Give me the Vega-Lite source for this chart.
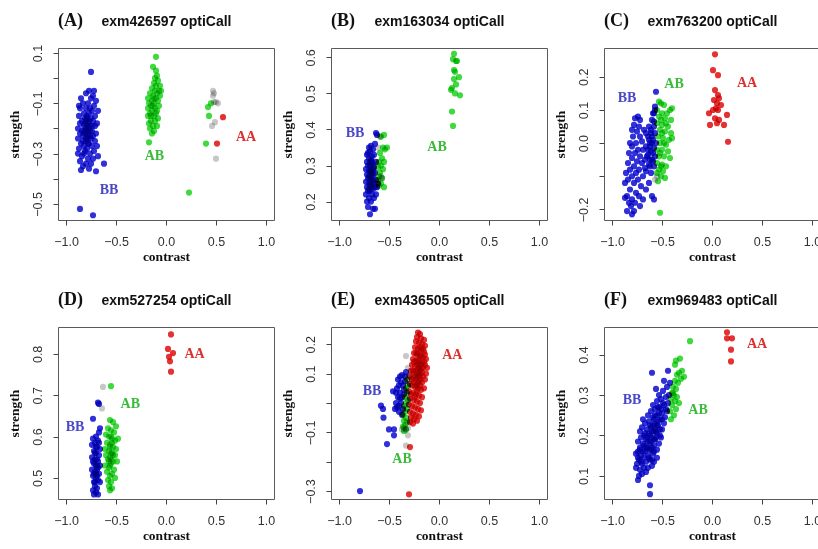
{
  "$schema": "https://vega.github.io/schema/vega-lite/v6.json",
  "background": "white",
  "padding": {"left": 6, "top": 11, "right": 0, "bottom": 0},
  "datasets": {
    "ptsA": [
      {"g":"BB","x":-0.75,"y":0.025},{"g":"BB","x":-0.86,"y":-0.52},{"g":"BB","x":-0.73,"y":-0.545},{"g":"BB","x":-0.62,"y":-0.34},
      {"g":"BB","x":-0.70,"y":-0.37},{"g":"BB","x":-0.85,"y":-0.365},{"g":"BB","x":-0.68,"y":-0.31},{"g":"BB","x":-0.88,"y":-0.30},
      {"g":"BB","x":-0.77,"y":-0.05},{"g":"BB","x":-0.72,"y":-0.05},{"g":"BB","x":-0.80,"y":-0.06},{"g":"BB","x":-0.75,"y":-0.08},
      {"g":"BB","x":-0.70,"y":-0.09},{"g":"BB","x":-0.83,"y":-0.10},{"g":"BB","x":-0.78,"y":-0.10},{"g":"BB","x":-0.72,"y":-0.11},
      {"g":"BB","x":-0.86,"y":-0.12},{"g":"BB","x":-0.80,"y":-0.12},{"g":"BB","x":-0.74,"y":-0.13},{"g":"BB","x":-0.68,"y":-0.13},
      {"g":"BB","x":-0.82,"y":-0.14},{"g":"BB","x":-0.77,"y":-0.14},{"g":"BB","x":-0.71,"y":-0.15},{"g":"BB","x":-0.87,"y":-0.15},
      {"g":"BB","x":-0.79,"y":-0.16},{"g":"BB","x":-0.75,"y":-0.16},{"g":"BB","x":-0.84,"y":-0.17},{"g":"BB","x":-0.80,"y":-0.17},
      {"g":"BB","x":-0.73,"y":-0.17},{"g":"BB","x":-0.69,"y":-0.18},{"g":"BB","x":-0.86,"y":-0.18},{"g":"BB","x":-0.78,"y":-0.18},
      {"g":"BB","x":-0.76,"y":-0.19},{"g":"BB","x":-0.82,"y":-0.19},{"g":"BB","x":-0.71,"y":-0.19},{"g":"BB","x":-0.88,"y":-0.20},
      {"g":"BB","x":-0.80,"y":-0.20},{"g":"BB","x":-0.77,"y":-0.20},{"g":"BB","x":-0.74,"y":-0.21},{"g":"BB","x":-0.84,"y":-0.21},
      {"g":"BB","x":-0.79,"y":-0.21},{"g":"BB","x":-0.70,"y":-0.22},{"g":"BB","x":-0.86,"y":-0.22},{"g":"BB","x":-0.81,"y":-0.22},
      {"g":"BB","x":-0.76,"y":-0.23},{"g":"BB","x":-0.73,"y":-0.23},{"g":"BB","x":-0.83,"y":-0.23},{"g":"BB","x":-0.78,"y":-0.24},
      {"g":"BB","x":-0.88,"y":-0.24},{"g":"BB","x":-0.75,"y":-0.24},{"g":"BB","x":-0.80,"y":-0.25},{"g":"BB","x":-0.71,"y":-0.25},
      {"g":"BB","x":-0.85,"y":-0.26},{"g":"BB","x":-0.77,"y":-0.26},{"g":"BB","x":-0.82,"y":-0.27},{"g":"BB","x":-0.74,"y":-0.27},
      {"g":"BB","x":-0.79,"y":-0.28},{"g":"BB","x":-0.87,"y":-0.28},{"g":"BB","x":-0.72,"y":-0.29},{"g":"BB","x":-0.81,"y":-0.29},
      {"g":"BB","x":-0.76,"y":-0.30},{"g":"BB","x":-0.84,"y":-0.31},{"g":"BB","x":-0.78,"y":-0.32},{"g":"BB","x":-0.73,"y":-0.32},
      {"g":"BB","x":-0.86,"y":-0.33},{"g":"BB","x":-0.80,"y":-0.34},{"g":"BB","x":-0.75,"y":-0.34},{"g":"BB","x":-0.83,"y":-0.35},
      {"g":"BB","x":-0.77,"y":-0.36},{"g":"BB","x":-0.79,"y":-0.15},{"g":"BB","x":-0.81,"y":-0.18},{"g":"BB","x":-0.78,"y":-0.22},
      {"g":"BB","x":-0.80,"y":-0.24},{"g":"BB","x":-0.79,"y":-0.19},{"g":"BB","x":-0.77,"y":-0.17},{"g":"BB","x":-0.82,"y":-0.21},
      {"g":"BB","x":-0.76,"y":-0.21},{"g":"BB","x":-0.78,"y":-0.26},{"g":"BB","x":-0.81,"y":-0.16},{"g":"BB","x":-0.74,"y":-0.19},
      {"g":"BB","x":-0.83,"y":-0.25},{"g":"BB","x":-0.79,"y":-0.23},{"g":"BB","x":-0.76,"y":-0.12},{"g":"BB","x":-0.85,"y":-0.08},
      {"g":"BB","x":-0.73,"y":-0.07},{"g":"BB","x":-0.82,"y":-0.30},{"g":"BB","x":-0.69,"y":-0.27},{"g":"BB","x":-0.87,"y":-0.11},
      {"g":"AB","x":-0.10,"y":0.085},{"g":"AB","x":-0.13,"y":0.045},{"g":"AB","x":-0.10,"y":0.03},{"g":"AB","x":-0.09,"y":0.01},
      {"g":"AB","x":-0.11,"y":0.0},{"g":"AB","x":-0.08,"y":-0.01},{"g":"AB","x":-0.12,"y":-0.02},{"g":"AB","x":-0.06,"y":-0.03},
      {"g":"AB","x":-0.10,"y":-0.03},{"g":"AB","x":-0.14,"y":-0.04},{"g":"AB","x":-0.07,"y":-0.05},{"g":"AB","x":-0.11,"y":-0.05},
      {"g":"AB","x":-0.05,"y":-0.05},{"g":"AB","x":-0.16,"y":-0.06},{"g":"AB","x":-0.09,"y":-0.06},{"g":"AB","x":-0.13,"y":-0.07},
      {"g":"AB","x":-0.06,"y":-0.07},{"g":"AB","x":-0.18,"y":-0.08},{"g":"AB","x":-0.10,"y":-0.08},{"g":"AB","x":-0.14,"y":-0.09},
      {"g":"AB","x":-0.08,"y":-0.09},{"g":"AB","x":-0.12,"y":-0.10},{"g":"AB","x":-0.17,"y":-0.10},{"g":"AB","x":-0.07,"y":-0.11},
      {"g":"AB","x":-0.15,"y":-0.11},{"g":"AB","x":-0.11,"y":-0.12},{"g":"AB","x":-0.18,"y":-0.12},{"g":"AB","x":-0.09,"y":-0.13},
      {"g":"AB","x":-0.14,"y":-0.13},{"g":"AB","x":-0.16,"y":-0.14},{"g":"AB","x":-0.10,"y":-0.14},{"g":"AB","x":-0.12,"y":-0.15},
      {"g":"AB","x":-0.18,"y":-0.15},{"g":"AB","x":-0.08,"y":-0.16},{"g":"AB","x":-0.15,"y":-0.17},{"g":"AB","x":-0.11,"y":-0.17},
      {"g":"AB","x":-0.17,"y":-0.18},{"g":"AB","x":-0.13,"y":-0.19},{"g":"AB","x":-0.09,"y":-0.19},{"g":"AB","x":-0.16,"y":-0.20},
      {"g":"AB","x":-0.12,"y":-0.21},{"g":"AB","x":-0.14,"y":-0.22},{"g":"AB","x":-0.17,"y":-0.255},{"g":"AB","x":-0.13,"y":-0.11},
      {"g":"AB","x":-0.12,"y":-0.08},{"g":"AB","x":-0.15,"y":-0.15},{"g":"AB","x":0.23,"y":-0.455},{"g":"AB","x":0.45,"y":-0.10},
      {"g":"AB","x":0.42,"y":-0.115},{"g":"AB","x":0.43,"y":-0.15},{"g":"AB","x":0.40,"y":-0.26},
      {"g":"NC","x":0.47,"y":-0.05},{"g":"NC","x":0.48,"y":-0.06},{"g":"NC","x":0.47,"y":-0.07},{"g":"NC","x":0.48,"y":-0.095},
      {"g":"NC","x":0.50,"y":-0.095},{"g":"NC","x":0.52,"y":-0.10},{"g":"NC","x":0.49,"y":-0.175},{"g":"NC","x":0.46,"y":-0.19},
      {"g":"NC","x":0.50,"y":-0.32},
      {"g":"AA","x":0.57,"y":-0.155},{"g":"AA","x":0.51,"y":-0.26}
    ],
    "labA": [{"g":"BB","x":-0.57,"y":-0.444},{"g":"AB","x":-0.116,"y":-0.31},{"g":"AA","x":0.80,"y":-0.234}],
    "ptsB": [
      {"g":"BB","x":-0.69,"y":0.165},{"g":"BB","x":-0.66,"y":0.18},{"g":"BB","x":-0.71,"y":0.185},{"g":"BB","x":-0.64,"y":0.18},
      {"g":"BB","x":-0.72,"y":0.20},{"g":"BB","x":-0.68,"y":0.20},{"g":"BB","x":-0.65,"y":0.21},{"g":"BB","x":-0.70,"y":0.21},
      {"g":"BB","x":-0.73,"y":0.22},{"g":"BB","x":-0.67,"y":0.22},{"g":"BB","x":-0.63,"y":0.22},{"g":"BB","x":-0.71,"y":0.23},
      {"g":"BB","x":-0.69,"y":0.23},{"g":"BB","x":-0.66,"y":0.235},{"g":"BB","x":-0.62,"y":0.24},{"g":"BB","x":-0.72,"y":0.24},
      {"g":"BB","x":-0.68,"y":0.245},{"g":"BB","x":-0.70,"y":0.25},{"g":"BB","x":-0.65,"y":0.25},{"g":"BB","x":-0.73,"y":0.255},
      {"g":"BB","x":-0.67,"y":0.26},{"g":"BB","x":-0.63,"y":0.26},{"g":"BB","x":-0.71,"y":0.265},{"g":"BB","x":-0.69,"y":0.27},
      {"g":"BB","x":-0.66,"y":0.27},{"g":"BB","x":-0.72,"y":0.275},{"g":"BB","x":-0.64,"y":0.28},{"g":"BB","x":-0.68,"y":0.28},
      {"g":"BB","x":-0.70,"y":0.285},{"g":"BB","x":-0.67,"y":0.29},{"g":"BB","x":-0.73,"y":0.29},{"g":"BB","x":-0.65,"y":0.295},
      {"g":"BB","x":-0.71,"y":0.30},{"g":"BB","x":-0.69,"y":0.30},{"g":"BB","x":-0.66,"y":0.305},{"g":"BB","x":-0.63,"y":0.31},
      {"g":"BB","x":-0.72,"y":0.31},{"g":"BB","x":-0.68,"y":0.315},{"g":"BB","x":-0.70,"y":0.32},{"g":"BB","x":-0.67,"y":0.325},
      {"g":"BB","x":-0.65,"y":0.33},{"g":"BB","x":-0.71,"y":0.335},{"g":"BB","x":-0.69,"y":0.34},{"g":"BB","x":-0.66,"y":0.345},
      {"g":"BB","x":-0.70,"y":0.35},{"g":"BB","x":-0.68,"y":0.355},{"g":"BB","x":-0.64,"y":0.36},{"g":"BB","x":-0.62,"y":0.385},
      {"g":"BB","x":-0.63,"y":0.39},{"g":"BB","x":-0.69,"y":0.26},{"g":"BB","x":-0.68,"y":0.25},{"g":"BB","x":-0.67,"y":0.275},
      {"g":"BB","x":-0.69,"y":0.285},{"g":"BB","x":-0.68,"y":0.265},{"g":"BB","x":-0.66,"y":0.255},{"g":"BB","x":-0.70,"y":0.27},
      {"g":"BB","x":-0.67,"y":0.24},{"g":"BB","x":-0.69,"y":0.31},{"g":"BB","x":-0.66,"y":0.29},{"g":"BB","x":-0.70,"y":0.235},
      {"g":"BB","x":-0.64,"y":0.24},{"g":"BB","x":-0.61,"y":0.25},{"g":"BB","x":-0.72,"y":0.33},{"g":"BB","x":-0.68,"y":0.30},
      {"g":"BB","x":-0.67,"y":0.31},{"g":"BB","x":-0.68,"y":0.285},{"g":"BB","x":-0.69,"y":0.245},{"g":"BB","x":-0.66,"y":0.28},
      {"g":"AB","x":-0.55,"y":0.385},{"g":"AB","x":-0.58,"y":0.38},{"g":"AB","x":-0.56,"y":0.35},{"g":"AB","x":-0.52,"y":0.35},
      {"g":"AB","x":-0.54,"y":0.345},{"g":"AB","x":-0.59,"y":0.335},{"g":"AB","x":-0.57,"y":0.32},{"g":"AB","x":-0.60,"y":0.31},
      {"g":"AB","x":-0.55,"y":0.31},{"g":"AB","x":-0.58,"y":0.30},{"g":"AB","x":-0.61,"y":0.295},{"g":"AB","x":-0.56,"y":0.29},
      {"g":"AB","x":-0.59,"y":0.28},{"g":"AB","x":-0.60,"y":0.27},{"g":"AB","x":-0.57,"y":0.265},{"g":"AB","x":-0.61,"y":0.26},
      {"g":"AB","x":-0.58,"y":0.25},{"g":"AB","x":-0.55,"y":0.24},{"g":"AB","x":-0.60,"y":0.245},
      {"g":"AB","x":0.15,"y":0.61},{"g":"AB","x":0.14,"y":0.595},{"g":"AB","x":0.17,"y":0.59},{"g":"AB","x":0.18,"y":0.59},
      {"g":"AB","x":0.15,"y":0.565},{"g":"AB","x":0.16,"y":0.56},{"g":"AB","x":0.20,"y":0.545},{"g":"AB","x":0.15,"y":0.54},
      {"g":"AB","x":0.17,"y":0.525},{"g":"AB","x":0.13,"y":0.515},{"g":"AB","x":0.12,"y":0.51},{"g":"AB","x":0.16,"y":0.50},
      {"g":"AB","x":0.21,"y":0.495},{"g":"AB","x":0.13,"y":0.45},{"g":"AB","x":0.14,"y":0.41},
      {"g":"NC","x":-0.59,"y":0.38},{"g":"NC","x":-0.61,"y":0.35},{"g":"NC","x":-0.58,"y":0.27},{"g":"NC","x":-0.57,"y":0.265}
    ],
    "labB": [{"g":"BB","x":-0.84,"y":0.39},{"g":"AB","x":-0.02,"y":0.351}],
    "ptsC": [
      {"g":"BB","x":-0.56,"y":0.155},{"g":"BB","x":-0.57,"y":0.11},{"g":"BB","x":-0.58,"y":0.09},{"g":"BB","x":-0.74,"y":0.08},
      {"g":"BB","x":-0.77,"y":0.075},{"g":"BB","x":-0.72,"y":0.07},{"g":"BB","x":-0.60,"y":0.07},{"g":"BB","x":-0.78,"y":0.055},
      {"g":"BB","x":-0.73,"y":0.05},{"g":"BB","x":-0.63,"y":0.05},{"g":"BB","x":-0.58,"y":0.05},{"g":"BB","x":-0.80,"y":0.04},
      {"g":"BB","x":-0.75,"y":0.035},{"g":"BB","x":-0.68,"y":0.04},{"g":"BB","x":-0.61,"y":0.03},{"g":"BB","x":-0.57,"y":0.03},
      {"g":"BB","x":-0.79,"y":0.02},{"g":"BB","x":-0.72,"y":0.02},{"g":"BB","x":-0.64,"y":0.02},{"g":"BB","x":-0.59,"y":0.01},
      {"g":"BB","x":-0.82,"y":0.0},{"g":"BB","x":-0.76,"y":0.0},{"g":"BB","x":-0.70,"y":0.005},{"g":"BB","x":-0.62,"y":0.0},
      {"g":"BB","x":-0.56,"y":0.0},{"g":"BB","x":-0.80,"y":-0.01},{"g":"BB","x":-0.66,"y":-0.01},{"g":"BB","x":-0.58,"y":-0.015},
      {"g":"BB","x":-0.74,"y":-0.02},{"g":"BB","x":-0.69,"y":-0.02},{"g":"BB","x":-0.61,"y":-0.025},{"g":"BB","x":-0.83,"y":-0.03},
      {"g":"BB","x":-0.77,"y":-0.03},{"g":"BB","x":-0.64,"y":-0.035},{"g":"BB","x":-0.57,"y":-0.04},{"g":"BB","x":-0.72,"y":-0.04},
      {"g":"BB","x":-0.80,"y":-0.045},{"g":"BB","x":-0.67,"y":-0.05},{"g":"BB","x":-0.60,"y":-0.05},{"g":"BB","x":-0.75,"y":-0.055},
      {"g":"BB","x":-0.84,"y":-0.06},{"g":"BB","x":-0.70,"y":-0.06},{"g":"BB","x":-0.63,"y":-0.065},{"g":"BB","x":-0.78,"y":-0.07},
      {"g":"BB","x":-0.58,"y":-0.07},{"g":"BB","x":-0.82,"y":-0.08},{"g":"BB","x":-0.73,"y":-0.08},{"g":"BB","x":-0.66,"y":-0.085},
      {"g":"BB","x":-0.86,"y":-0.09},{"g":"BB","x":-0.76,"y":-0.09},{"g":"BB","x":-0.61,"y":-0.09},{"g":"BB","x":-0.80,"y":-0.10},
      {"g":"BB","x":-0.69,"y":-0.10},{"g":"BB","x":-0.84,"y":-0.11},{"g":"BB","x":-0.74,"y":-0.11},{"g":"BB","x":-0.63,"y":-0.12},
      {"g":"BB","x":-0.87,"y":-0.12},{"g":"BB","x":-0.78,"y":-0.12},{"g":"BB","x":-0.71,"y":-0.13},{"g":"BB","x":-0.82,"y":-0.14},
      {"g":"BB","x":-0.66,"y":-0.14},{"g":"BB","x":-0.76,"y":-0.15},{"g":"BB","x":-0.85,"y":-0.16},{"g":"BB","x":-0.73,"y":-0.16},
      {"g":"BB","x":-0.60,"y":-0.16},{"g":"BB","x":-0.80,"y":-0.17},{"g":"BB","x":-0.69,"y":-0.17},{"g":"BB","x":-0.77,"y":-0.18},
      {"g":"BB","x":-0.83,"y":-0.18},{"g":"BB","x":-0.72,"y":-0.19},{"g":"BB","x":-0.58,"y":-0.17},{"g":"BB","x":-0.87,"y":-0.165},
      {"g":"BB","x":-0.81,"y":-0.19},{"g":"BB","x":-0.85,"y":-0.205},{"g":"BB","x":-0.80,"y":-0.215},{"g":"BB","x":-0.78,"y":-0.205},
      {"g":"BB","x":-0.62,"y":-0.01},{"g":"BB","x":-0.60,"y":0.0},{"g":"BB","x":-0.63,"y":0.01},{"g":"BB","x":-0.59,"y":-0.03},
      {"g":"BB","x":-0.62,"y":-0.05},{"g":"BB","x":-0.65,"y":-0.04},{"g":"BB","x":-0.61,"y":0.04},{"g":"BB","x":-0.64,"y":-0.02},
      {"g":"BB","x":-0.60,"y":0.02},{"g":"BB","x":-0.66,"y":0.03},{"g":"BB","x":-0.62,"y":-0.07},{"g":"BB","x":-0.67,"y":-0.075},
      {"g":"BB","x":-0.59,"y":-0.055},{"g":"BB","x":-0.58,"y":0.065},{"g":"BB","x":-0.59,"y":0.09},{"g":"BB","x":-0.57,"y":0.10},
      {"g":"AB","x":-0.52,"y":-0.21},{"g":"AB","x":-0.53,"y":0.125},{"g":"AB","x":-0.51,"y":0.12},{"g":"AB","x":-0.48,"y":0.115},
      {"g":"AB","x":-0.42,"y":0.10},{"g":"AB","x":-0.40,"y":0.105},{"g":"AB","x":-0.55,"y":0.10},{"g":"AB","x":-0.50,"y":0.09},
      {"g":"AB","x":-0.45,"y":0.09},{"g":"AB","x":-0.53,"y":0.08},{"g":"AB","x":-0.47,"y":0.075},{"g":"AB","x":-0.41,"y":0.07},
      {"g":"AB","x":-0.55,"y":0.06},{"g":"AB","x":-0.50,"y":0.055},{"g":"AB","x":-0.44,"y":0.05},{"g":"AB","x":-0.52,"y":0.04},
      {"g":"AB","x":-0.47,"y":0.035},{"g":"AB","x":-0.41,"y":0.03},{"g":"AB","x":-0.54,"y":0.02},{"g":"AB","x":-0.49,"y":0.015},
      {"g":"AB","x":-0.43,"y":0.01},{"g":"AB","x":-0.40,"y":0.015},{"g":"AB","x":-0.52,"y":0.0},{"g":"AB","x":-0.46,"y":-0.005},
      {"g":"AB","x":-0.55,"y":-0.02},{"g":"AB","x":-0.50,"y":-0.02},{"g":"AB","x":-0.44,"y":-0.025},{"g":"AB","x":-0.53,"y":-0.04},
      {"g":"AB","x":-0.48,"y":-0.04},{"g":"AB","x":-0.42,"y":-0.045},{"g":"AB","x":-0.55,"y":-0.06},{"g":"AB","x":-0.50,"y":-0.065},
      {"g":"AB","x":-0.46,"y":-0.07},{"g":"AB","x":-0.53,"y":-0.08},{"g":"AB","x":-0.49,"y":-0.085},{"g":"AB","x":-0.55,"y":-0.09},
      {"g":"AB","x":-0.51,"y":-0.10},{"g":"AB","x":-0.47,"y":-0.105},{"g":"AB","x":-0.54,"y":-0.115},{"g":"AB","x":-0.51,"y":-0.07},
      {"g":"AB","x":-0.52,"y":-0.03},{"g":"AB","x":-0.50,"y":0.03},{"g":"AB","x":-0.48,"y":0.0},{"g":"AB","x":-0.51,"y":0.07},
      {"g":"AB","x":-0.46,"y":0.06},
      {"g":"NC","x":-0.57,"y":-0.11},{"g":"NC","x":-0.55,"y":-0.10},
      {"g":"AA","x":0.03,"y":0.268},{"g":"AA","x":0.01,"y":0.22},{"g":"AA","x":0.06,"y":0.205},{"g":"AA","x":0.03,"y":0.16},
      {"g":"AA","x":0.06,"y":0.145},{"g":"AA","x":0.07,"y":0.135},{"g":"AA","x":0.02,"y":0.13},{"g":"AA","x":0.05,"y":0.12},
      {"g":"AA","x":0.09,"y":0.115},{"g":"AA","x":0.04,"y":0.105},{"g":"AA","x":0.01,"y":0.10},{"g":"AA","x":0.06,"y":0.10},
      {"g":"AA","x":-0.03,"y":0.09},{"g":"AA","x":0.15,"y":0.085},{"g":"AA","x":0.03,"y":0.075},{"g":"AA","x":0.07,"y":0.07},
      {"g":"AA","x":0.05,"y":0.06},{"g":"AA","x":-0.02,"y":0.055},{"g":"AA","x":0.12,"y":0.055},{"g":"AA","x":0.16,"y":0.004}
    ],
    "labC": [{"g":"BB","x":-0.85,"y":0.135},{"g":"AB","x":-0.38,"y":0.178},{"g":"AA","x":0.35,"y":0.182}],
    "ptsD": [
      {"g":"BB","x":-0.68,"y":0.682},{"g":"BB","x":-0.67,"y":0.679},{"g":"BB","x":-0.73,"y":0.643},{"g":"BB","x":-0.66,"y":0.62},
      {"g":"BB","x":-0.67,"y":0.61},{"g":"BB","x":-0.70,"y":0.60},{"g":"BB","x":-0.73,"y":0.595},{"g":"BB","x":-0.68,"y":0.59},
      {"g":"BB","x":-0.71,"y":0.585},{"g":"BB","x":-0.74,"y":0.58},{"g":"BB","x":-0.69,"y":0.575},{"g":"BB","x":-0.66,"y":0.57},
      {"g":"BB","x":-0.72,"y":0.565},{"g":"BB","x":-0.70,"y":0.56},{"g":"BB","x":-0.67,"y":0.555},{"g":"BB","x":-0.74,"y":0.55},
      {"g":"BB","x":-0.71,"y":0.545},{"g":"BB","x":-0.68,"y":0.54},{"g":"BB","x":-0.72,"y":0.535},{"g":"BB","x":-0.66,"y":0.53},
      {"g":"BB","x":-0.70,"y":0.53},{"g":"BB","x":-0.74,"y":0.52},{"g":"BB","x":-0.69,"y":0.52},{"g":"BB","x":-0.71,"y":0.515},
      {"g":"BB","x":-0.67,"y":0.51},{"g":"BB","x":-0.73,"y":0.505},{"g":"BB","x":-0.70,"y":0.50},{"g":"BB","x":-0.68,"y":0.495},
      {"g":"BB","x":-0.72,"y":0.49},{"g":"BB","x":-0.66,"y":0.49},{"g":"BB","x":-0.71,"y":0.48},{"g":"BB","x":-0.69,"y":0.475},
      {"g":"BB","x":-0.73,"y":0.47},{"g":"BB","x":-0.70,"y":0.465},{"g":"BB","x":-0.68,"y":0.46},{"g":"BB","x":-0.72,"y":0.46},
      {"g":"BB","x":-0.69,"y":0.545},{"g":"BB","x":-0.70,"y":0.51},{"g":"BB","x":-0.71,"y":0.56},{"g":"BB","x":-0.69,"y":0.53},
      {"g":"BB","x":-0.72,"y":0.51},{"g":"BB","x":-0.70,"y":0.575},{"g":"BB","x":-0.68,"y":0.525},{"g":"BB","x":-0.71,"y":0.49},
      {"g":"BB","x":-0.69,"y":0.505},{"g":"BB","x":-0.67,"y":0.585},{"g":"BB","x":-0.73,"y":0.54},
      {"g":"AB","x":-0.55,"y":0.722},{"g":"AB","x":-0.56,"y":0.64},{"g":"AB","x":-0.53,"y":0.635},{"g":"AB","x":-0.50,"y":0.625},
      {"g":"AB","x":-0.58,"y":0.62},{"g":"AB","x":-0.55,"y":0.615},{"g":"AB","x":-0.52,"y":0.61},{"g":"AB","x":-0.60,"y":0.605},
      {"g":"AB","x":-0.57,"y":0.60},{"g":"AB","x":-0.48,"y":0.595},{"g":"AB","x":-0.54,"y":0.595},{"g":"AB","x":-0.51,"y":0.59},
      {"g":"AB","x":-0.59,"y":0.585},{"g":"AB","x":-0.56,"y":0.58},{"g":"AB","x":-0.53,"y":0.575},{"g":"AB","x":-0.61,"y":0.57},
      {"g":"AB","x":-0.50,"y":0.57},{"g":"AB","x":-0.57,"y":0.565},{"g":"AB","x":-0.54,"y":0.56},{"g":"AB","x":-0.60,"y":0.555},
      {"g":"AB","x":-0.51,"y":0.555},{"g":"AB","x":-0.56,"y":0.55},{"g":"AB","x":-0.58,"y":0.545},{"g":"AB","x":-0.53,"y":0.54},
      {"g":"AB","x":-0.49,"y":0.54},{"g":"AB","x":-0.55,"y":0.535},{"g":"AB","x":-0.61,"y":0.53},{"g":"AB","x":-0.57,"y":0.525},
      {"g":"AB","x":-0.52,"y":0.52},{"g":"AB","x":-0.59,"y":0.515},{"g":"AB","x":-0.54,"y":0.51},{"g":"AB","x":-0.56,"y":0.505},
      {"g":"AB","x":-0.51,"y":0.50},{"g":"AB","x":-0.58,"y":0.495},{"g":"AB","x":-0.55,"y":0.49},{"g":"AB","x":-0.57,"y":0.48},
      {"g":"AB","x":-0.54,"y":0.475},{"g":"AB","x":-0.56,"y":0.47},{"g":"AB","x":-0.55,"y":0.56},{"g":"AB","x":-0.56,"y":0.575},
      {"g":"AB","x":-0.55,"y":0.545},{"g":"AB","x":-0.54,"y":0.585},{"g":"AB","x":-0.56,"y":0.53},{"g":"AB","x":-0.55,"y":0.60},
      {"g":"AB","x":-0.53,"y":0.555},{"g":"AB","x":-0.57,"y":0.54},
      {"g":"NC","x":-0.63,"y":0.72},{"g":"NC","x":-0.64,"y":0.668},
      {"g":"AA","x":0.05,"y":0.847},{"g":"AA","x":0.02,"y":0.812},{"g":"AA","x":0.07,"y":0.802},{"g":"AA","x":0.03,"y":0.793},
      {"g":"AA","x":0.04,"y":0.782},{"g":"AA","x":0.05,"y":0.757}
    ],
    "labD": [{"g":"BB","x":-0.91,"y":0.624},{"g":"AB","x":-0.357,"y":0.679},{"g":"AA","x":0.286,"y":0.80}],
    "ptsE": [
      {"g":"BB","x":-0.79,"y":-0.30},{"g":"BB","x":-0.52,"y":-0.14},{"g":"BB","x":-0.58,"y":-0.009},{"g":"BB","x":-0.56,"y":-0.02},
      {"g":"BB","x":-0.555,"y":-0.05},{"g":"BB","x":-0.50,"y":-0.09},{"g":"BB","x":-0.45,"y":-0.09},{"g":"BB","x":-0.45,"y":-0.11},
      {"g":"BB","x":-0.44,"y":-0.02},{"g":"BB","x":-0.43,"y":0.0},{"g":"BB","x":-0.46,"y":0.04},{"g":"BB","x":-0.43,"y":0.035},
      {"g":"BB","x":-0.42,"y":0.05},{"g":"BB","x":-0.40,"y":0.06},{"g":"BB","x":-0.38,"y":0.07},{"g":"BB","x":-0.36,"y":0.06},
      {"g":"BB","x":-0.41,"y":0.08},{"g":"BB","x":-0.39,"y":0.09},{"g":"BB","x":-0.37,"y":0.095},{"g":"BB","x":-0.34,"y":0.09},
      {"g":"BB","x":-0.35,"y":0.03},{"g":"BB","x":-0.37,"y":0.02},{"g":"BB","x":-0.39,"y":0.015},{"g":"BB","x":-0.38,"y":0.0},
      {"g":"BB","x":-0.40,"y":-0.01},{"g":"BB","x":-0.42,"y":-0.015},{"g":"BB","x":-0.36,"y":-0.02},{"g":"BB","x":-0.35,"y":0.045},
      {"g":"BB","x":-0.39,"y":0.035},{"g":"BB","x":-0.34,"y":0.075},{"g":"BB","x":-0.33,"y":0.105},{"g":"BB","x":-0.41,"y":0.02},
      {"g":"BB","x":-0.40,"y":-0.03},{"g":"BB","x":-0.37,"y":-0.04},
      {"g":"AB","x":-0.32,"y":0.08},{"g":"AB","x":-0.31,"y":0.06},{"g":"AB","x":-0.33,"y":0.05},{"g":"AB","x":-0.32,"y":0.035},
      {"g":"AB","x":-0.34,"y":0.02},{"g":"AB","x":-0.31,"y":0.01},{"g":"AB","x":-0.33,"y":0.0},{"g":"AB","x":-0.35,"y":-0.01},
      {"g":"AB","x":-0.32,"y":-0.02},{"g":"AB","x":-0.34,"y":-0.03},{"g":"AB","x":-0.36,"y":-0.04},{"g":"AB","x":-0.33,"y":-0.05},
      {"g":"AB","x":-0.35,"y":-0.06},{"g":"AB","x":-0.32,"y":-0.065},{"g":"AB","x":-0.34,"y":-0.075},{"g":"AB","x":-0.36,"y":-0.08},
      {"g":"AB","x":-0.33,"y":-0.09},{"g":"AB","x":-0.35,"y":-0.095},
      {"g":"NC","x":-0.33,"y":0.16},{"g":"NC","x":-0.31,"y":0.12},{"g":"NC","x":-0.30,"y":0.095},{"g":"NC","x":-0.37,"y":-0.09},
      {"g":"NC","x":-0.33,"y":-0.09},{"g":"NC","x":-0.31,"y":-0.085},{"g":"NC","x":-0.31,"y":-0.11},{"g":"NC","x":-0.33,"y":-0.145},
      {"g":"NC","x":-0.35,"y":-0.085},
      {"g":"AA","x":-0.21,"y":0.24},{"g":"AA","x":-0.19,"y":0.235},{"g":"AA","x":-0.22,"y":0.225},{"g":"AA","x":-0.18,"y":0.22},
      {"g":"AA","x":-0.15,"y":0.215},{"g":"AA","x":-0.23,"y":0.21},{"g":"AA","x":-0.20,"y":0.205},{"g":"AA","x":-0.17,"y":0.20},
      {"g":"AA","x":-0.14,"y":0.195},{"g":"AA","x":-0.24,"y":0.19},{"g":"AA","x":-0.21,"y":0.185},{"g":"AA","x":-0.18,"y":0.18},
      {"g":"AA","x":-0.15,"y":0.175},{"g":"AA","x":-0.25,"y":0.17},{"g":"AA","x":-0.22,"y":0.165},{"g":"AA","x":-0.19,"y":0.16},
      {"g":"AA","x":-0.16,"y":0.155},{"g":"AA","x":-0.13,"y":0.15},{"g":"AA","x":-0.26,"y":0.15},{"g":"AA","x":-0.23,"y":0.145},
      {"g":"AA","x":-0.20,"y":0.14},{"g":"AA","x":-0.17,"y":0.135},{"g":"AA","x":-0.27,"y":0.13},{"g":"AA","x":-0.14,"y":0.13},
      {"g":"AA","x":-0.24,"y":0.125},{"g":"AA","x":-0.21,"y":0.12},{"g":"AA","x":-0.18,"y":0.115},{"g":"AA","x":-0.12,"y":0.12},
      {"g":"AA","x":-0.28,"y":0.11},{"g":"AA","x":-0.25,"y":0.105},{"g":"AA","x":-0.22,"y":0.10},{"g":"AA","x":-0.19,"y":0.095},
      {"g":"AA","x":-0.16,"y":0.09},{"g":"AA","x":-0.29,"y":0.09},{"g":"AA","x":-0.26,"y":0.085},{"g":"AA","x":-0.23,"y":0.08},
      {"g":"AA","x":-0.20,"y":0.075},{"g":"AA","x":-0.14,"y":0.08},{"g":"AA","x":-0.17,"y":0.07},{"g":"AA","x":-0.29,"y":0.065},
      {"g":"AA","x":-0.27,"y":0.06},{"g":"AA","x":-0.24,"y":0.055},{"g":"AA","x":-0.21,"y":0.05},{"g":"AA","x":-0.18,"y":0.045},
      {"g":"AA","x":-0.15,"y":0.05},{"g":"AA","x":-0.30,"y":0.04},{"g":"AA","x":-0.26,"y":0.035},{"g":"AA","x":-0.23,"y":0.03},
      {"g":"AA","x":-0.20,"y":0.025},{"g":"AA","x":-0.17,"y":0.02},{"g":"AA","x":-0.29,"y":0.015},{"g":"AA","x":-0.25,"y":0.01},
      {"g":"AA","x":-0.22,"y":0.005},{"g":"AA","x":-0.19,"y":0.0},{"g":"AA","x":-0.30,"y":-0.005},{"g":"AA","x":-0.27,"y":-0.01},
      {"g":"AA","x":-0.24,"y":-0.015},{"g":"AA","x":-0.21,"y":-0.02},{"g":"AA","x":-0.18,"y":-0.025},{"g":"AA","x":-0.29,"y":-0.03},
      {"g":"AA","x":-0.26,"y":-0.035},{"g":"AA","x":-0.23,"y":-0.04},{"g":"AA","x":-0.20,"y":-0.045},{"g":"AA","x":-0.28,"y":-0.05},
      {"g":"AA","x":-0.25,"y":-0.055},{"g":"AA","x":-0.22,"y":-0.06},{"g":"AA","x":-0.29,"y":-0.065},{"g":"AA","x":-0.26,"y":-0.07},
      {"g":"AA","x":-0.20,"y":0.15},{"g":"AA","x":-0.21,"y":0.13},{"g":"AA","x":-0.19,"y":0.11},{"g":"AA","x":-0.22,"y":0.09},
      {"g":"AA","x":-0.20,"y":0.12},{"g":"AA","x":-0.23,"y":0.11},{"g":"AA","x":-0.21,"y":0.07},{"g":"AA","x":-0.19,"y":0.08},
      {"g":"AA","x":-0.22,"y":0.06},{"g":"AA","x":-0.20,"y":0.10},{"g":"AA","x":-0.18,"y":0.13},{"g":"AA","x":-0.21,"y":0.17},
      {"g":"AA","x":-0.24,"y":0.09},{"g":"AA","x":-0.22,"y":0.04},{"g":"AA","x":-0.19,"y":0.06},{"g":"AA","x":-0.23,"y":0.06},
      {"g":"AA","x":-0.24,"y":0.02},{"g":"AA","x":-0.20,"y":0.09},{"g":"AA","x":-0.17,"y":0.105},{"g":"AA","x":-0.18,"y":0.16},
      {"g":"AA","x":-0.22,"y":0.14},{"g":"AA","x":-0.23,"y":0.17},{"g":"AA","x":-0.19,"y":0.19},{"g":"AA","x":-0.16,"y":0.12},
      {"g":"AA","x":-0.25,"y":0.14},{"g":"AA","x":-0.26,"y":0.11},{"g":"AA","x":-0.27,"y":0.08},{"g":"AA","x":-0.28,"y":0.03},
      {"g":"AA","x":-0.25,"y":0.07},{"g":"AA","x":-0.15,"y":0.14},{"g":"AA","x":-0.14,"y":0.165},{"g":"AA","x":-0.16,"y":0.185},
      {"g":"AA","x":-0.13,"y":0.10},{"g":"AA","x":-0.29,"y":-0.15},{"g":"AA","x":-0.30,"y":-0.311}
    ],
    "labE": [{"g":"BB","x":-0.67,"y":0.042},{"g":"AB","x":-0.37,"y":-0.191},{"g":"AA","x":0.133,"y":0.165}],
    "ptsF": [
      {"g":"BB","x":-0.62,"y":0.055},{"g":"BB","x":-0.62,"y":0.077},{"g":"BB","x":-0.74,"y":0.09},{"g":"BB","x":-0.73,"y":0.10},
      {"g":"BB","x":-0.70,"y":0.105},{"g":"BB","x":-0.66,"y":0.11},{"g":"BB","x":-0.72,"y":0.115},{"g":"BB","x":-0.68,"y":0.12},
      {"g":"BB","x":-0.64,"y":0.12},{"g":"BB","x":-0.60,"y":0.125},{"g":"BB","x":-0.75,"y":0.13},{"g":"BB","x":-0.70,"y":0.13},
      {"g":"BB","x":-0.66,"y":0.135},{"g":"BB","x":-0.58,"y":0.135},{"g":"BB","x":-0.73,"y":0.14},{"g":"BB","x":-0.62,"y":0.14},
      {"g":"BB","x":-0.68,"y":0.145},{"g":"BB","x":-0.55,"y":0.145},{"g":"BB","x":-0.76,"y":0.155},{"g":"BB","x":-0.71,"y":0.15},
      {"g":"BB","x":-0.64,"y":0.15},{"g":"BB","x":-0.59,"y":0.155},{"g":"BB","x":-0.74,"y":0.16},{"g":"BB","x":-0.67,"y":0.16},
      {"g":"BB","x":-0.61,"y":0.165},{"g":"BB","x":-0.55,"y":0.165},{"g":"BB","x":-0.72,"y":0.17},{"g":"BB","x":-0.65,"y":0.17},
      {"g":"BB","x":-0.58,"y":0.175},{"g":"BB","x":-0.69,"y":0.18},{"g":"BB","x":-0.62,"y":0.18},{"g":"BB","x":-0.53,"y":0.18},
      {"g":"BB","x":-0.74,"y":0.185},{"g":"BB","x":-0.66,"y":0.19},{"g":"BB","x":-0.57,"y":0.19},{"g":"BB","x":-0.71,"y":0.195},
      {"g":"BB","x":-0.60,"y":0.195},{"g":"BB","x":-0.51,"y":0.195},{"g":"BB","x":-0.68,"y":0.20},{"g":"BB","x":-0.63,"y":0.205},
      {"g":"BB","x":-0.55,"y":0.205},{"g":"BB","x":-0.72,"y":0.21},{"g":"BB","x":-0.58,"y":0.21},{"g":"BB","x":-0.65,"y":0.215},
      {"g":"BB","x":-0.50,"y":0.215},{"g":"BB","x":-0.70,"y":0.22},{"g":"BB","x":-0.61,"y":0.22},{"g":"BB","x":-0.54,"y":0.225},
      {"g":"BB","x":-0.67,"y":0.23},{"g":"BB","x":-0.57,"y":0.23},{"g":"BB","x":-0.48,"y":0.23},{"g":"BB","x":-0.63,"y":0.235},
      {"g":"BB","x":-0.52,"y":0.24},{"g":"BB","x":-0.69,"y":0.24},{"g":"BB","x":-0.59,"y":0.245},{"g":"BB","x":-0.47,"y":0.245},
      {"g":"BB","x":-0.64,"y":0.25},{"g":"BB","x":-0.55,"y":0.25},{"g":"BB","x":-0.50,"y":0.255},{"g":"BB","x":-0.61,"y":0.26},
      {"g":"BB","x":-0.45,"y":0.26},{"g":"BB","x":-0.57,"y":0.265},{"g":"BB","x":-0.53,"y":0.27},{"g":"BB","x":-0.48,"y":0.275},
      {"g":"BB","x":-0.59,"y":0.275},{"g":"BB","x":-0.44,"y":0.28},{"g":"BB","x":-0.55,"y":0.285},{"g":"BB","x":-0.51,"y":0.29},
      {"g":"BB","x":-0.46,"y":0.295},{"g":"BB","x":-0.53,"y":0.30},{"g":"BB","x":-0.43,"y":0.30},{"g":"BB","x":-0.49,"y":0.31},
      {"g":"BB","x":-0.45,"y":0.32},{"g":"BB","x":-0.42,"y":0.33},{"g":"BB","x":-0.56,"y":0.315},{"g":"BB","x":-0.48,"y":0.335},
      {"g":"BB","x":-0.60,"y":0.355},{"g":"BB","x":-0.44,"y":0.36},{"g":"BB","x":-0.58,"y":0.19},{"g":"BB","x":-0.60,"y":0.17},
      {"g":"BB","x":-0.56,"y":0.21},{"g":"BB","x":-0.62,"y":0.20},{"g":"BB","x":-0.57,"y":0.215},{"g":"BB","x":-0.59,"y":0.225},
      {"g":"BB","x":-0.54,"y":0.235},{"g":"BB","x":-0.61,"y":0.185},{"g":"BB","x":-0.63,"y":0.165},{"g":"BB","x":-0.56,"y":0.195},
      {"g":"BB","x":-0.52,"y":0.215},{"g":"BB","x":-0.58,"y":0.24},{"g":"BB","x":-0.55,"y":0.225},{"g":"BB","x":-0.53,"y":0.255},
      {"g":"BB","x":-0.60,"y":0.21},{"g":"BB","x":-0.64,"y":0.185},{"g":"BB","x":-0.66,"y":0.17},{"g":"BB","x":-0.51,"y":0.265},
      {"g":"BB","x":-0.57,"y":0.25},{"g":"BB","x":-0.62,"y":0.225},{"g":"BB","x":-0.49,"y":0.28},{"g":"BB","x":-0.54,"y":0.27},
      {"g":"BB","x":-0.67,"y":0.205},{"g":"BB","x":-0.69,"y":0.16},{"g":"BB","x":-0.71,"y":0.135},{"g":"BB","x":-0.63,"y":0.145},
      {"g":"BB","x":-0.65,"y":0.195},{"g":"BB","x":-0.50,"y":0.24},{"g":"BB","x":-0.46,"y":0.265},{"g":"BB","x":-0.52,"y":0.20},
      {"g":"BB","x":-0.58,"y":0.16},{"g":"BB","x":-0.60,"y":0.14},{"g":"BB","x":-0.68,"y":0.175},{"g":"BB","x":-0.72,"y":0.165},
      {"g":"BB","x":-0.76,"y":0.12},{"g":"BB","x":-0.74,"y":0.145},
      {"g":"AB","x":-0.22,"y":0.433},{"g":"AB","x":-0.32,"y":0.39},{"g":"AB","x":-0.36,"y":0.385},{"g":"AB","x":-0.37,"y":0.375},
      {"g":"AB","x":-0.30,"y":0.36},{"g":"AB","x":-0.33,"y":0.355},{"g":"AB","x":-0.35,"y":0.35},{"g":"AB","x":-0.28,"y":0.345},
      {"g":"AB","x":-0.31,"y":0.34},{"g":"AB","x":-0.37,"y":0.335},{"g":"AB","x":-0.34,"y":0.33},{"g":"AB","x":-0.39,"y":0.32},
      {"g":"AB","x":-0.36,"y":0.315},{"g":"AB","x":-0.40,"y":0.305},{"g":"AB","x":-0.38,"y":0.30},{"g":"AB","x":-0.35,"y":0.295},
      {"g":"AB","x":-0.41,"y":0.29},{"g":"AB","x":-0.37,"y":0.285},{"g":"AB","x":-0.33,"y":0.28},{"g":"AB","x":-0.40,"y":0.275},
      {"g":"AB","x":-0.36,"y":0.265},{"g":"AB","x":-0.42,"y":0.26},{"g":"AB","x":-0.38,"y":0.25},{"g":"AB","x":-0.41,"y":0.24},
      {"g":"AB","x":-0.39,"y":0.305},
      {"g":"AA","x":0.15,"y":0.455},{"g":"AA","x":0.15,"y":0.44},{"g":"AA","x":0.20,"y":0.44},{"g":"AA","x":0.19,"y":0.412},
      {"g":"AA","x":0.19,"y":0.383}
    ],
    "labF": [{"g":"BB","x":-0.80,"y":0.288},{"g":"AB","x":-0.14,"y":0.264},{"g":"AA","x":0.45,"y":0.425}]
  },
  "columns": 3,
  "spacing": {"row": 107, "column": 57},
  "bounds": "flush",
  "concat": [
    {
      "width": 216, "height": 172,
      "title": "(A)",
      "layer": [
        {
          "data": {"name": "ptsA"},
          "mark": {"type": "circle", "size": 38, "opacity": 0.85, "blend": "multiply"},
          "encoding": {
            "x": {"field": "x", "type": "quantitative", "scale": {"domain": [-1.08, 1.08], "nice": false, "zero": false}, "axis": {"title": "contrast"}},
            "y": {"field": "y", "type": "quantitative", "scale": {"domain": [-0.564, 0.12], "nice": false, "zero": false},
                  "axis": {"title": "strength", "values": [0.1, 0, -0.1, -0.2, -0.3, -0.4, -0.5], "labelExpr": "round(abs(datum.value) * 10) % 2 == 1 ? datum.label : ''"}},
            "color": {"field": "g", "type": "nominal", "scale": {"domain": ["BB", "AB", "AA", "NC"], "range": ["#0c0cd2", "#1ed21e", "#e00d0d", "#bdbdbd"]}, "legend": null}
          }
        },
        {
          "data": {"name": "labA"},
          "mark": {"type": "text", "font": "Liberation Serif", "fontSize": 14, "fontWeight": "bold"},
          "encoding": {
            "x": {"field": "x", "type": "quantitative", "scale": {"domain": [-1.08, 1.08], "nice": false, "zero": false},
                  "axis": {"orient": "top", "title": "exm426597 optiCall", "labels": false, "ticks": false, "domain": false, "titleFont": "Liberation Sans", "titleFontSize": 14, "titleFontWeight": "bold", "titlePadding": 20, "titleColor": "#111"}},
            "y": {"field": "y", "type": "quantitative", "scale": {"domain": [-0.564, 0.12], "nice": false, "zero": false}, "axis": null},
            "text": {"field": "g"},
            "color": {"field": "g", "type": "nominal", "scale": {"domain": ["BB", "AB", "AA"], "range": ["#4848c8", "#3cba3c", "#dd3030"]}, "legend": null}
          }
        }
      ],
      "resolve": {"scale": {"color": "independent"}, "axis": {"x": "independent", "y": "independent"}}
    },
    {
      "width": 216, "height": 172,
      "title": "(B)",
      "layer": [
        {
          "data": {"name": "ptsB"},
          "mark": {"type": "circle", "size": 38, "opacity": 0.85, "blend": "multiply"},
          "encoding": {
            "x": {"field": "x", "type": "quantitative", "scale": {"domain": [-1.08, 1.08], "nice": false, "zero": false}, "axis": {"title": "contrast"}},
            "y": {"field": "y", "type": "quantitative", "scale": {"domain": [0.149, 0.626], "nice": false, "zero": false},
                  "axis": {"title": "strength", "values": [0.2, 0.3, 0.4, 0.5, 0.6]}},
            "color": {"field": "g", "type": "nominal", "scale": {"domain": ["BB", "AB", "AA", "NC"], "range": ["#0c0cd2", "#1ed21e", "#e00d0d", "#bdbdbd"]}, "legend": null}
          }
        },
        {
          "data": {"name": "labB"},
          "mark": {"type": "text", "font": "Liberation Serif", "fontSize": 14, "fontWeight": "bold"},
          "encoding": {
            "x": {"field": "x", "type": "quantitative", "scale": {"domain": [-1.08, 1.08], "nice": false, "zero": false},
                  "axis": {"orient": "top", "title": "exm163034 optiCall", "labels": false, "ticks": false, "domain": false, "titleFont": "Liberation Sans", "titleFontSize": 14, "titleFontWeight": "bold", "titlePadding": 20, "titleColor": "#111"}},
            "y": {"field": "y", "type": "quantitative", "scale": {"domain": [0.149, 0.626], "nice": false, "zero": false}, "axis": null},
            "text": {"field": "g"},
            "color": {"field": "g", "type": "nominal", "scale": {"domain": ["BB", "AB", "AA"], "range": ["#4848c8", "#3cba3c", "#dd3030"]}, "legend": null}
          }
        }
      ],
      "resolve": {"scale": {"color": "independent"}, "axis": {"x": "independent", "y": "independent"}}
    },
    {
      "width": 216, "height": 172,
      "title": "(C)",
      "layer": [
        {
          "data": {"name": "ptsC"},
          "mark": {"type": "circle", "size": 38, "opacity": 0.85, "blend": "multiply"},
          "encoding": {
            "x": {"field": "x", "type": "quantitative", "scale": {"domain": [-1.08, 1.08], "nice": false, "zero": false}, "axis": {"title": "contrast"}},
            "y": {"field": "y", "type": "quantitative", "scale": {"domain": [-0.232, 0.287], "nice": false, "zero": false},
                  "axis": {"title": "strength", "values": [-0.2, -0.1, 0, 0.1, 0.2], "labelExpr": "datum.value == -0.1 ? '' : datum.label"}},
            "color": {"field": "g", "type": "nominal", "scale": {"domain": ["BB", "AB", "AA", "NC"], "range": ["#0c0cd2", "#1ed21e", "#e00d0d", "#bdbdbd"]}, "legend": null}
          }
        },
        {
          "data": {"name": "labC"},
          "mark": {"type": "text", "font": "Liberation Serif", "fontSize": 14, "fontWeight": "bold"},
          "encoding": {
            "x": {"field": "x", "type": "quantitative", "scale": {"domain": [-1.08, 1.08], "nice": false, "zero": false},
                  "axis": {"orient": "top", "title": "exm763200 optiCall", "labels": false, "ticks": false, "domain": false, "titleFont": "Liberation Sans", "titleFontSize": 14, "titleFontWeight": "bold", "titlePadding": 20, "titleColor": "#111"}},
            "y": {"field": "y", "type": "quantitative", "scale": {"domain": [-0.232, 0.287], "nice": false, "zero": false}, "axis": null},
            "text": {"field": "g"},
            "color": {"field": "g", "type": "nominal", "scale": {"domain": ["BB", "AB", "AA"], "range": ["#4848c8", "#3cba3c", "#dd3030"]}, "legend": null}
          }
        }
      ],
      "resolve": {"scale": {"color": "independent"}, "axis": {"x": "independent", "y": "independent"}}
    },
    {
      "width": 216, "height": 172,
      "title": "(D)",
      "layer": [
        {
          "data": {"name": "ptsD"},
          "mark": {"type": "circle", "size": 38, "opacity": 0.85, "blend": "multiply"},
          "encoding": {
            "x": {"field": "x", "type": "quantitative", "scale": {"domain": [-1.08, 1.08], "nice": false, "zero": false}, "axis": {"title": "contrast"}},
            "y": {"field": "y", "type": "quantitative", "scale": {"domain": [0.449, 0.865], "nice": false, "zero": false},
                  "axis": {"title": "strength", "values": [0.5, 0.6, 0.7, 0.8]}},
            "color": {"field": "g", "type": "nominal", "scale": {"domain": ["BB", "AB", "AA", "NC"], "range": ["#0c0cd2", "#1ed21e", "#e00d0d", "#bdbdbd"]}, "legend": null}
          }
        },
        {
          "data": {"name": "labD"},
          "mark": {"type": "text", "font": "Liberation Serif", "fontSize": 14, "fontWeight": "bold"},
          "encoding": {
            "x": {"field": "x", "type": "quantitative", "scale": {"domain": [-1.08, 1.08], "nice": false, "zero": false},
                  "axis": {"orient": "top", "title": "exm527254 optiCall", "labels": false, "ticks": false, "domain": false, "titleFont": "Liberation Sans", "titleFontSize": 14, "titleFontWeight": "bold", "titlePadding": 20, "titleColor": "#111"}},
            "y": {"field": "y", "type": "quantitative", "scale": {"domain": [0.449, 0.865], "nice": false, "zero": false}, "axis": null},
            "text": {"field": "g"},
            "color": {"field": "g", "type": "nominal", "scale": {"domain": ["BB", "AB", "AA"], "range": ["#4848c8", "#3cba3c", "#dd3030"]}, "legend": null}
          }
        }
      ],
      "resolve": {"scale": {"color": "independent"}, "axis": {"x": "independent", "y": "independent"}}
    },
    {
      "width": 216, "height": 172,
      "title": "(E)",
      "layer": [
        {
          "data": {"name": "ptsE"},
          "mark": {"type": "circle", "size": 38, "opacity": 0.85, "blend": "multiply"},
          "encoding": {
            "x": {"field": "x", "type": "quantitative", "scale": {"domain": [-1.08, 1.08], "nice": false, "zero": false}, "axis": {"title": "contrast"}},
            "y": {"field": "y", "type": "quantitative", "scale": {"domain": [-0.327, 0.259], "nice": false, "zero": false},
                  "axis": {"title": "strength", "values": [-0.3, -0.2, -0.1, 0, 0.1, 0.2], "labelExpr": "datum.value == 0 || datum.value == -0.2 ? '' : datum.label"}},
            "color": {"field": "g", "type": "nominal", "scale": {"domain": ["BB", "AB", "AA", "NC"], "range": ["#0c0cd2", "#1ed21e", "#e00d0d", "#bdbdbd"]}, "legend": null}
          }
        },
        {
          "data": {"name": "labE"},
          "mark": {"type": "text", "font": "Liberation Serif", "fontSize": 14, "fontWeight": "bold"},
          "encoding": {
            "x": {"field": "x", "type": "quantitative", "scale": {"domain": [-1.08, 1.08], "nice": false, "zero": false},
                  "axis": {"orient": "top", "title": "exm436505 optiCall", "labels": false, "ticks": false, "domain": false, "titleFont": "Liberation Sans", "titleFontSize": 14, "titleFontWeight": "bold", "titlePadding": 20, "titleColor": "#111"}},
            "y": {"field": "y", "type": "quantitative", "scale": {"domain": [-0.327, 0.259], "nice": false, "zero": false}, "axis": null},
            "text": {"field": "g"},
            "color": {"field": "g", "type": "nominal", "scale": {"domain": ["BB", "AB", "AA"], "range": ["#4848c8", "#3cba3c", "#dd3030"]}, "legend": null}
          }
        }
      ],
      "resolve": {"scale": {"color": "independent"}, "axis": {"x": "independent", "y": "independent"}}
    },
    {
      "width": 216, "height": 172,
      "title": "(F)",
      "layer": [
        {
          "data": {"name": "ptsF"},
          "mark": {"type": "circle", "size": 38, "opacity": 0.85, "blend": "multiply"},
          "encoding": {
            "x": {"field": "x", "type": "quantitative", "scale": {"domain": [-1.08, 1.08], "nice": false, "zero": false}, "axis": {"title": "contrast"}},
            "y": {"field": "y", "type": "quantitative", "scale": {"domain": [0.043, 0.468], "nice": false, "zero": false},
                  "axis": {"title": "strength", "values": [0.1, 0.2, 0.3, 0.4]}},
            "color": {"field": "g", "type": "nominal", "scale": {"domain": ["BB", "AB", "AA", "NC"], "range": ["#0c0cd2", "#1ed21e", "#e00d0d", "#bdbdbd"]}, "legend": null}
          }
        },
        {
          "data": {"name": "labF"},
          "mark": {"type": "text", "font": "Liberation Serif", "fontSize": 14, "fontWeight": "bold"},
          "encoding": {
            "x": {"field": "x", "type": "quantitative", "scale": {"domain": [-1.08, 1.08], "nice": false, "zero": false},
                  "axis": {"orient": "top", "title": "exm969483 optiCall", "labels": false, "ticks": false, "domain": false, "titleFont": "Liberation Sans", "titleFontSize": 14, "titleFontWeight": "bold", "titlePadding": 20, "titleColor": "#111"}},
            "y": {"field": "y", "type": "quantitative", "scale": {"domain": [0.043, 0.468], "nice": false, "zero": false}, "axis": null},
            "text": {"field": "g"},
            "color": {"field": "g", "type": "nominal", "scale": {"domain": ["BB", "AB", "AA"], "range": ["#4848c8", "#3cba3c", "#dd3030"]}, "legend": null}
          }
        }
      ],
      "resolve": {"scale": {"color": "independent"}, "axis": {"x": "independent", "y": "independent"}}
    }
  ],
  "config": {
    "view": {"stroke": "#5a5a5a", "strokeWidth": 1},
    "axis": {
      "grid": false, "domain": false, "tickColor": "#444", "tickSize": 5, "tickWidth": 1,
      "labelFont": "Liberation Sans", "labelFontSize": 12.5, "labelColor": "#333", "labelFlush": false, "labelOverlap": false,
      "titleFont": "Liberation Serif", "titleFontSize": 13.5, "titleFontWeight": "bold", "titleColor": "#111"
    },
    "axisX": {"values": [-1, -0.5, 0, 0.5, 1], "format": ".1f", "labelPadding": 10, "titlePadding": 2},
    "axisY": {"format": ".1f", "labelAngle": -90, "labelAlign": "center", "labelBaseline": "bottom", "labelPadding": 9, "titlePadding": 10},
    "title": {"font": "Liberation Serif", "fontSize": 18, "fontWeight": "bold", "anchor": "start", "frame": "group", "offset": -16, "color": "#111"}
  }
}
